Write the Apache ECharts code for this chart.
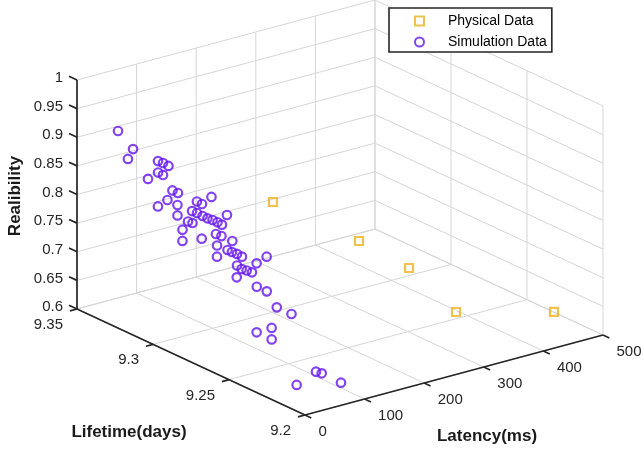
<!DOCTYPE html>
<html><head><meta charset="utf-8">
<script src="https://cdn.jsdelivr.net/npm/echarts@6/dist/echarts.min.js"></script>
<style>html,body{margin:0;padding:0;background:#fff}#c{width:644px;height:450px}</style>
</head><body><div id="c"></div>
<script>
// ---- axis ticks ----
const latencyTicks = [0, 100, 200, 300, 400, 500];
const latencyTickLabels = ['0', '100', '200', '300', '400', '500'];
const lifetimeTicks = [9.2, 9.25, 9.3, 9.35];
const lifetimeTickLabels = ['9.2', '9.25', '9.3', '9.35'];
const reliabilityTicks = [0.6, 0.65, 0.7, 0.75, 0.8, 0.85, 0.9, 0.95, 1];
const reliabilityTickLabels = ['0.6', '0.65', '0.7', '0.75', '0.8', '0.85', '0.9', '0.95', '1'];

// ---- Physical data ----
const physLatency = [100, 200, 300, 375, 480];
const physLifetime = [9.2603, 9.2429, 9.2492, 9.2477, 9.2244];
const physReliability = [0.8697, 0.7951, 0.7122, 0.6162, 0.6157];

// ---- Simulation data ----
const simLatency = [40,30,50,40,50,30,60,40,50,40,60,50,70,40,30,50,60,40,70,50,60,40,50,60,40,50,70,30,60,80,70,50,60,40,70,90,50,60,70,50,80,60,70,50,90,40,30,80,70,60,50,90,70,80,60,50,50,80];
const simLifetime = [9.3387,9.3249,9.3361,9.3124,9.3130,9.3016,9.3202,9.3091,9.3229,9.3029,9.3071,9.3101,9.3242,9.2996,9.2733,9.2907,9.2913,9.2900,9.2985,9.3035,9.3005,9.2897,9.2870,9.2877,9.2765,9.2772,9.2821,9.2631,9.3041,9.3120,9.2954,9.2782,9.2785,9.2635,9.2853,9.2932,9.2706,9.2716,9.2722,9.2611,9.2761,9.2652,9.2658,9.2545,9.2802,9.2475,9.2370,9.2631,9.2526,9.2421,9.2285,9.2671,9.2494,9.2533,9.2163,9.2086,9.2251,9.2077];
const simReliability = [0.9137,0.9020,0.8653,0.8937,0.8867,0.9012,0.8584,0.8734,0.8466,0.8540,0.8388,0.8257,0.7914,0.8327,0.8820,0.8470,0.8391,0.8340,0.8117,0.8068,0.7972,0.8135,0.8262,0.8186,0.8350,0.8274,0.8116,0.8631,0.7784,0.7434,0.7706,0.8057,0.7990,0.8144,0.7712,0.7363,0.7871,0.7796,0.7726,0.7872,0.7448,0.7578,0.7516,0.7680,0.7164,0.7952,0.8225,0.7238,0.7315,0.7193,0.7273,0.6365,0.6715,0.6438,0.6388,0.6482,0.6075,0.6246];

// ---- 3D box ranges and view (orthographic projection onto the plot plane) ----
const XR = [0, 500], YR = [9.2, 9.35], ZR = [0.6, 1];
const VX = [298, 80], VY = [-228, 106], VZ = [0, 229];   // projected extents of each full axis

function norm(v, r) { return (v - r[0]) / (r[1] - r[0]); }
function project(lat, lt, rel) {
  const a = norm(lat, XR), b = norm(lt, YR), c = norm(rel, ZR);
  return [a * VX[0] + b * VY[0] + c * VZ[0], a * VX[1] + b * VY[1] + c * VZ[1]];
}

const physPts = physLatency.map((v, i) => project(v, physLifetime[i], physReliability[i]));
const simPts = simLatency.map((v, i) => project(v, simLifetime[i], simReliability[i]));

const GRID_C = '#d6d6d6', AXIS_C = '#262626', TXT_C = '#262626';
const FONT = '15px "Liberation Sans", Arial, sans-serif';

function boxRender(params, api) {
  const ch = [];
  const P = (lat, lt, rel) => api.coord(project(lat, lt, rel));
  const line = (p, q, col, w) => ch.push({type: 'line', shape: {x1: p[0], y1: p[1], x2: q[0], y2: q[1]}, style: {stroke: col, lineWidth: w}});
  const text = (s, p, dx, dy, align, font, fill) => ch.push({type: 'text', x: p[0] + dx, y: p[1] + dy,
    style: {text: s, font: font || FONT, fill: fill || TXT_C, align: align, verticalAlign: 'middle', textAlign: align, textVerticalAlign: 'middle'}});
  const x0 = XR[0], x1 = XR[1], y0 = YR[0], y1 = YR[1], z0 = ZR[0], z1 = ZR[1];
  // floor grid
  latencyTicks.forEach(t => line(P(t, y0, z0), P(t, y1, z0), GRID_C, 1));
  lifetimeTicks.forEach(t => line(P(x0, t, z0), P(x1, t, z0), GRID_C, 1));
  // back wall (lifetime = max)
  reliabilityTicks.forEach(t => line(P(x0, y1, t), P(x1, y1, t), GRID_C, 1));
  latencyTicks.forEach(t => line(P(t, y1, z0), P(t, y1, z1), GRID_C, 1));
  // right wall (latency = max)
  reliabilityTicks.forEach(t => line(P(x1, y0, t), P(x1, y1, t), GRID_C, 1));
  lifetimeTicks.forEach(t => line(P(x1, t, z0), P(x1, t, z1), GRID_C, 1));
  // axis lines
  line(P(x0, y1, z0), P(x0, y1, z1), AXIS_C, 1.7);
  line(P(x0, y0, z0), P(x0, y1, z0), AXIS_C, 1.7);
  line(P(x0, y0, z0), P(x1, y0, z0), AXIS_C, 1.7);
  // z ticks + labels
  reliabilityTicks.forEach((t, i) => {
    const p = P(x0, y1, t);
    line(p, [p[0] - 8, p[1] - 3.7], AXIS_C, 1.7);
    text(reliabilityTickLabels[i], p, -14, -2, 'right');
  });
  // lifetime ticks + labels
  lifetimeTicks.forEach((t, i) => {
    const p = P(x0, t, z0);
    line(p, [p[0] - 7, p[1] + 1.9], AXIS_C, 1.7);
    text(lifetimeTickLabels[i], p, -14, 16, 'right');
  });
  // latency ticks + labels
  latencyTicks.forEach((t, i) => {
    const p = P(t, y0, z0);
    line(p, [p[0] + 6.3, p[1] + 2.9], AXIS_C, 1.7);
    text(latencyTickLabels[i], p, 13.5, 17, 'left');
  });
  return {type: 'group', children: ch};
}

const chart = echarts.init(document.getElementById('c'), null, {renderer: 'canvas'});
chart.setOption({
  animation: false,
  backgroundColor: '#fff',
  grid: {left: 0, right: 0, top: 0, bottom: 0},
  xAxis: {type: 'value', min: -305, max: 339, show: false},
  yAxis: {type: 'value', min: -35, max: 415, show: false},
  legend: {
    orient: 'vertical', left: 389, top: 8,
    padding: [6, 5, 3, 25], itemWidth: 9, itemHeight: 9, itemGap: 7,
    borderColor: '#262626', borderWidth: 1.6, backgroundColor: '#fff', borderRadius: 0,
    textStyle: {fontFamily: '"Liberation Sans", Arial, sans-serif', fontSize: 14, color: '#000', padding: [0, 0, 0, 19], lineHeight: 14},
    data: ['Physical Data', 'Simulation Data']
  },
  graphic: [
    {type: 'text', x: 15, y: 196, rotation: Math.PI / 2, style: {text: 'Realibility', font: 'bold 17px "Liberation Sans", Arial, sans-serif', fill: '#1a1a1a', align: 'center', verticalAlign: 'middle', textAlign: 'center', textVerticalAlign: 'middle'}},
    {type: 'text', x: 129, y: 432, style: {text: 'Lifetime(days)', font: 'bold 17px "Liberation Sans", Arial, sans-serif', fill: '#1a1a1a', align: 'center', verticalAlign: 'middle', textAlign: 'center', textVerticalAlign: 'middle'}},
    {type: 'text', x: 487, y: 436, style: {text: 'Latency(ms)', font: 'bold 17px "Liberation Sans", Arial, sans-serif', fill: '#1a1a1a', align: 'center', verticalAlign: 'middle', textAlign: 'center', textVerticalAlign: 'middle'}}
  ],
  series: [
    {type: 'custom', coordinateSystem: 'cartesian2d', data: [[0, 0]], renderItem: boxRender, silent: true, z: 1, clip: false},
    {name: 'Physical Data', type: 'scatter', data: physPts, symbol: 'rect', symbolSize: 8, z: 3,
      itemStyle: {color: 'rgba(255,255,255,0)', borderColor: '#EDB120', borderWidth: 2.2}},
    {name: 'Simulation Data', type: 'scatter', data: simPts, symbol: 'circle', symbolSize: 8.5, z: 3,
      itemStyle: {color: 'rgba(255,255,255,0)', borderColor: '#6414F0', borderWidth: 2.2}}
  ]
});
</script></body></html>
